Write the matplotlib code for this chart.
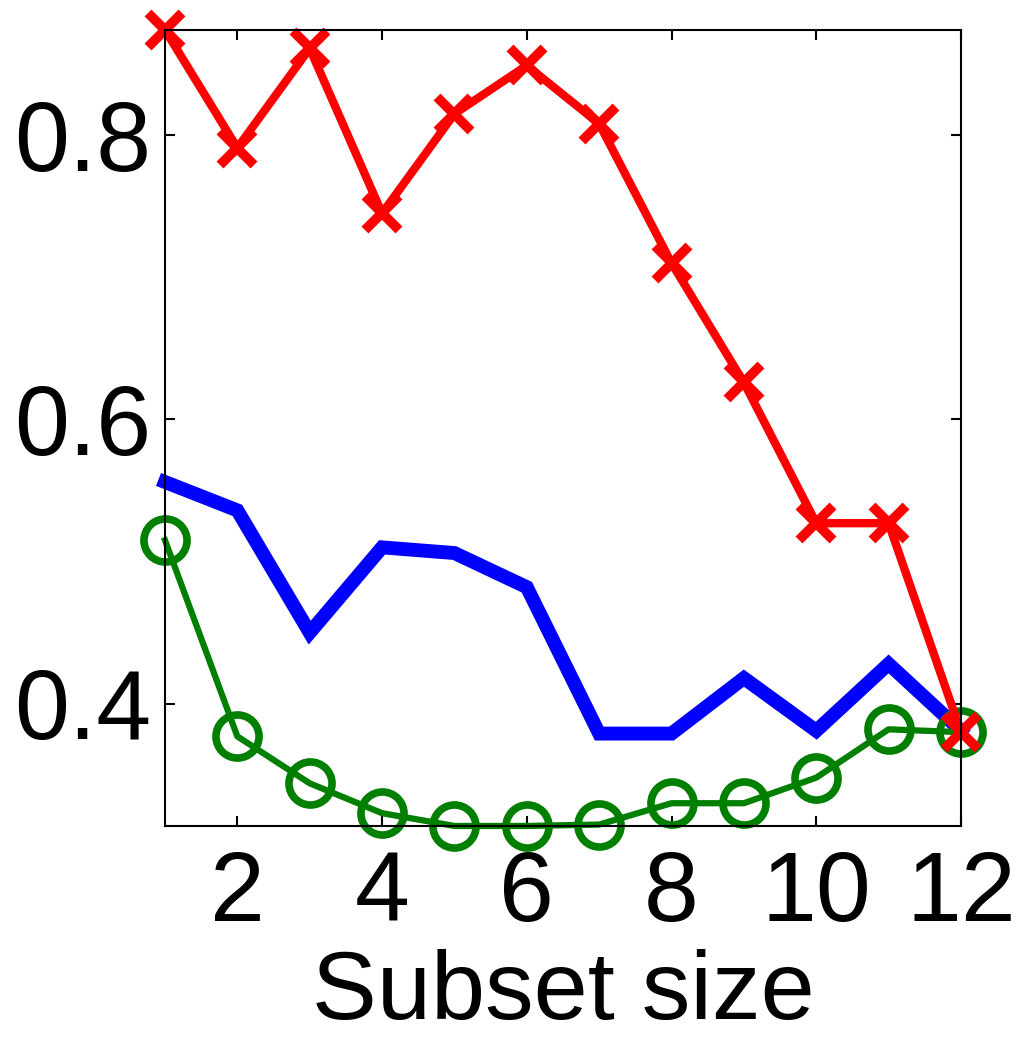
# Subset size curves, MATLAB-style
import numpy as np
import matplotlib.pyplot as plt

plt.rcParams['font.family'] = ['Liberation Sans', 'DejaVu Sans']

subset_size = np.arange(1, 13)
red_vals = [0.874, 0.791, 0.861, 0.745, 0.815, 0.849, 0.808, 0.710, 0.626, 0.527, 0.527, 0.380]
blue_vals = [0.556, 0.536, 0.450, 0.510, 0.506, 0.482, 0.379, 0.379, 0.418, 0.381, 0.428, 0.381]
green_vals = [0.515, 0.377, 0.344, 0.323, 0.314, 0.314, 0.315, 0.330, 0.330, 0.348, 0.382, 0.380]

x_ticks = [2, 4, 6, 8, 10, 12]
y_ticks = [0.4, 0.6, 0.8]

fig = plt.figure(figsize=(10.21, 10.40), dpi=100)
ax = fig.add_axes([0.1616, 0.2058, 0.7796, 0.7654])

ax.plot(subset_size, blue_vals, color='#0000ff', lw=10, solid_joinstyle='miter', clip_on=False)
ax.plot(subset_size, green_vals, color='#007f00', lw=4.5, marker='o', ms=31,
        mfc='none', mec='#007f00', mew=5.5, clip_on=False)
ax.plot(subset_size, red_vals, color='#ff0000', lw=6, marker='x', ms=25,
        mew=7, clip_on=False)

ax.set_xlim(1, 12)
ax.set_ylim(min(green_vals), max(red_vals))
ax.set_xticks(x_ticks)
ax.set_yticks(y_ticks)
ax.set_yticklabels(['0.4', '0.6', '0.8'])
ax.tick_params(direction='in', length=7, width=1.5, top=True, right=True,
               labelsize=71)
ax.tick_params(axis='x', pad=17)
ax.tick_params(axis='y', pad=10)
for s in ax.spines.values():
    s.set_linewidth(1.5)

ax.set_xlabel('Subset size', fontsize=70, labelpad=6)

fig.savefig('out.png', dpi=100)
